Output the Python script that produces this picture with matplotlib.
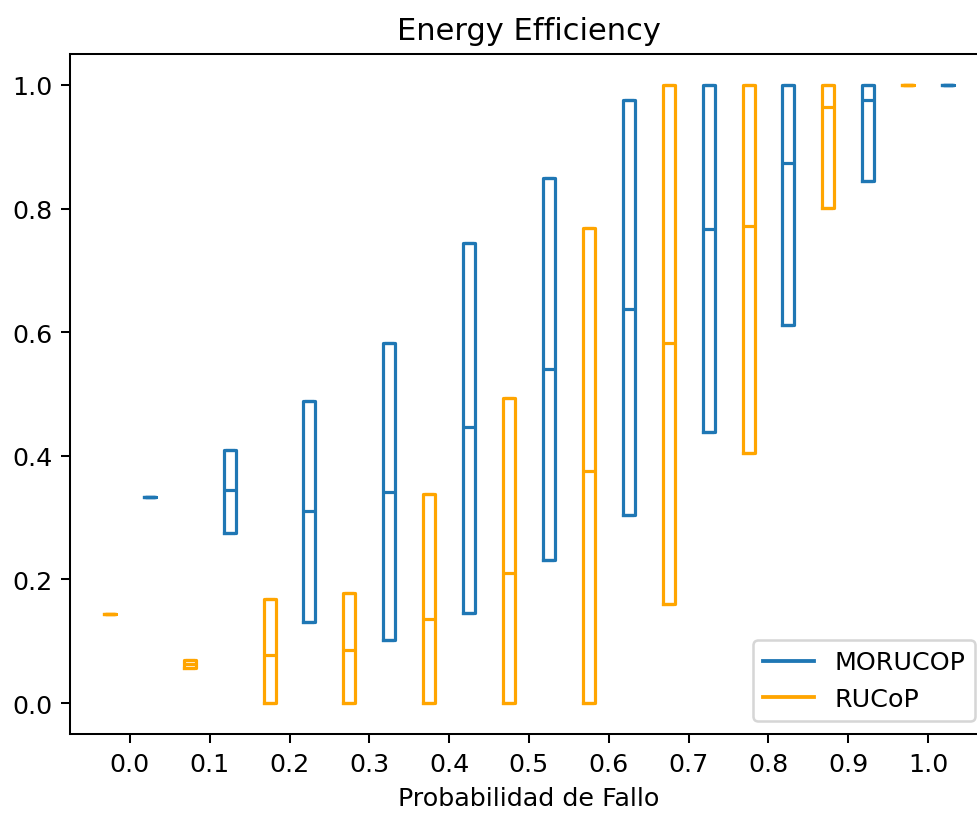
import matplotlib
matplotlib.use("Agg")
import matplotlib.pyplot as plt

groups = ["0.0", "0.1", "0.2", "0.3", "0.4", "0.5", "0.6", "0.7", "0.8", "0.9", "1.0"]

morucop_q1 = [0.333, 0.275, 0.131, 0.102, 0.145, 0.231, 0.304, 0.439, 0.612, 0.845, 1.0]
morucop_med = [0.333, 0.344, 0.310, 0.342, 0.446, 0.541, 0.638, 0.767, 0.874, 0.976, 1.0]
morucop_q3 = [0.333, 0.409, 0.488, 0.582, 0.745, 0.850, 0.976, 1.0, 1.0, 1.0, 1.0]

rucop_q1 = [0.144, 0.057, 0.0, 0.0, 0.0, 0.0, 0.0, 0.160, 0.405, 0.801, 1.0]
rucop_med = [0.144, 0.063, 0.078, 0.086, 0.136, 0.210, 0.375, 0.583, 0.771, 0.964, 1.0]
rucop_q3 = [0.144, 0.070, 0.168, 0.178, 0.338, 0.493, 0.769, 1.0, 1.0, 1.0, 1.0]

DPI = 183
fig = plt.figure(figsize=(977/DPI, 816/DPI), dpi=DPI)
ax = fig.add_axes([70/977, 1-735/816, 918/977, (735-55)/816])

def stats(q1, med, q3):
    return [dict(q1=a, med=m, q3=b, whislo=a, whishi=b, fliers=[]) for a, m, b in zip(q1, med, q3)]

def draw(st, pos, color):
    lw = 1.25
    ax.bxp(st, positions=pos, widths=0.15, showfliers=False,
           boxprops=dict(color=color, linewidth=lw),
           whiskerprops=dict(color=color, linewidth=lw),
           capprops=dict(color=color, linewidth=lw),
           medianprops=dict(color=color, linewidth=lw),
           manage_ticks=False)

n = len(groups)
draw(stats(morucop_q1, morucop_med, morucop_q3), [i + 0.25 for i in range(n)], "#1f77b4")
draw(stats(rucop_q1, rucop_med, rucop_q3), [i - 0.25 for i in range(n)], "orange")

ax.plot([], [], color="#1f77b4", label="MORUCOP")
ax.plot([], [], color="orange", label="RUCoP")
ax.legend(loc="lower right")

ax.set_xticks(range(n))
ax.set_xticklabels(groups)
ax.set_xlim(-0.75, n - 0.25)
ax.set_ylim(-0.05, 1.05)
ax.set_xlabel("Probabilidad de Fallo")
ax.set_title("Energy Efficiency")

fig.savefig("out.png", dpi=DPI)
